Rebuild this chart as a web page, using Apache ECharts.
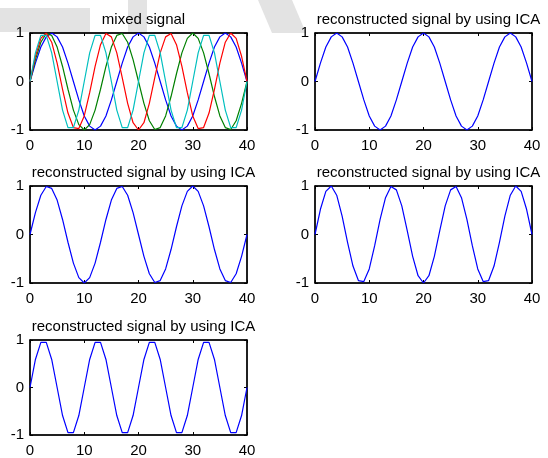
<!DOCTYPE html>
<html>
<head>
<meta charset="utf-8">
<script src="https://cdn.jsdelivr.net/npm/echarts@6/dist/echarts.min.js"></script>
<style>
  html, body { margin: 0; padding: 0; background: #fff; }
  #main { width: 548px; height: 458px; }
</style>
</head>
<body>
<div id="main"></div>
<script>
var blue = [0, 0.38, 0.71, 0.92, 1, 0.92, 0.71, 0.38, 0, -0.38, -0.71, -0.92, -1, -0.92, -0.71, -0.38,
    0, 0.38, 0.71, 0.92, 1, 0.92, 0.71, 0.38, 0, -0.38, -0.71, -0.92, -1, -0.92, -0.71, -0.38,
    0, 0.38, 0.71, 0.92, 1, 0.92, 0.71, 0.38, 0];
var green = [0, 0.45, 0.81, 0.99, 0.95, 0.71, 0.31, -0.16, -0.59, -0.89, -1, -0.89, -0.59, -0.16,
    0.31, 0.71, 0.95, 0.99, 0.81, 0.45, 0, -0.45, -0.81, -0.99, -0.95, -0.71, -0.31, 0.16, 0.59,
    0.89, 1, 0.89, 0.59, 0.16, -0.31, -0.71, -0.95, -0.99, -0.81, -0.45, 0];
var red = [0, 0.52, 0.89, 1, 0.81, 0.38, -0.16, -0.65, -0.95, -0.97, -0.71, -0.23, 0.31, 0.76,
    0.99, 0.92, 0.59, 0.08, -0.45, -0.85, -1, -0.85, -0.45, 0.08, 0.59, 0.92, 0.99, 0.76, 0.31,
    -0.23, -0.71, -0.97, -0.95, -0.65, -0.16, 0.38, 0.81, 1, 0.89, 0.52, 0];
var cyan = [0, 0.59, 0.95, 0.95, 0.59, 0, -0.59, -0.95, -0.95, -0.59,
    0, 0.59, 0.95, 0.95, 0.59, 0, -0.59, -0.95, -0.95, -0.59,
    0, 0.59, 0.95, 0.95, 0.59, 0, -0.59, -0.95, -0.95, -0.59,
    0, 0.59, 0.95, 0.95, 0.59, 0, -0.59, -0.95, -0.95, -0.59, 0];

var titles = ['mixed signal', 'reconstructed signal by using ICA', 'reconstructed signal by using ICA',
    'reconstructed signal by using ICA', 'reconstructed signal by using ICA'];
var panels = [[blue, green, red, cyan], [blue], [green], [red], [cyan]];
var panelColors = [['#0000ff', '#008000', '#ff0000', '#00bfbf'], ['#0000ff'], ['#0000ff'], ['#0000ff'], ['#0000ff']];

var boxes = [
    {left: 30, top: 33, width: 217, height: 97},
    {left: 315, top: 33, width: 217, height: 97},
    {left: 30, top: 186, width: 217, height: 97},
    {left: 315, top: 186, width: 217, height: 97},
    {left: 30, top: 340, width: 217, height: 96}
];

var font = 'Liberation Sans, Arial, sans-serif';
var grid = [], xAxis = [], yAxis = [], series = [], title = [];

boxes.forEach(function (b, k) {
    grid.push({left: b.left, top: b.top, width: b.width, height: b.height,
        show: true, borderColor: '#000', borderWidth: 1, containLabel: false});
    title.push({
        text: titles[k], left: b.left + b.width / 2, top: b.top - 26, textAlign: 'center',
        textStyle: {fontFamily: font, fontSize: 15, fontWeight: 'normal', color: '#000'}
    });
    ['bottom', 'top'].forEach(function (pos) {
        xAxis.push({
            type: 'value', gridIndex: k, position: pos, min: 0, max: 40, interval: 10,
            axisLine: {show: true, onZero: false, lineStyle: {color: '#000', width: 1.5}},
            axisTick: {show: true, inside: true, length: 3, lineStyle: {color: '#000'}},
            axisLabel: {show: pos === 'bottom', color: '#000', fontFamily: font, fontSize: 15, margin: 8},
            splitLine: {show: false}
        });
    });
    ['left', 'right'].forEach(function (pos) {
        yAxis.push({
            type: 'value', gridIndex: k, position: pos, min: -1, max: 1, interval: 1,
            axisLine: {show: true, onZero: false, lineStyle: {color: '#000', width: 1.5}},
            axisTick: {show: true, inside: true, length: 3, lineStyle: {color: '#000'}},
            axisLabel: {show: pos === 'left', color: '#000', fontFamily: font, fontSize: 15, margin: 6},
            splitLine: {show: false}
        });
    });
    panels[k].forEach(function (arr, j) {
        series.push({
            type: 'line', xAxisIndex: k * 2, yAxisIndex: k * 2,
            data: arr.map(function (v, i) { return [i, v]; }),
            showSymbol: false, symbol: 'none', animation: false,
            lineStyle: {color: panelColors[k][j], width: 1.2},
            z: 3
        });
    });
});

// faint grey watermark patches near the top edge
var wm = {fill: '#e3e3e3'};
var graphic = [
    {type: 'rect', shape: {x: 0, y: 8, width: 90, height: 24}, style: wm, z: -10},
    {type: 'rect', shape: {x: 128, y: 0, width: 19, height: 33}, style: wm, z: -10},
    {type: 'polygon', shape: {points: [[258, 0], [292, 0], [306, 33], [272, 33]]}, style: wm, z: -10}
];

var myChart = echarts.init(document.getElementById('main'));
myChart.setOption({
    backgroundColor: '#fff',
    animation: false,
    title: title,
    graphic: graphic,
    grid: grid,
    xAxis: xAxis,
    yAxis: yAxis,
    series: series
});
</script>
</body>
</html>
